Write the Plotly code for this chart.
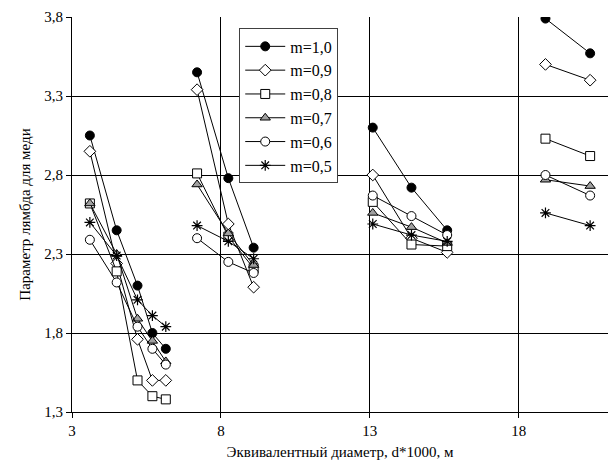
import plotly.graph_objects as go

# Equivalent diameter positions for the four groups
x_g1 = [3.6, 4.5, 5.2, 5.7, 6.15]
x_g2 = [7.2, 8.25, 9.1]
x_g3 = [13.1, 14.4, 15.6]
x_g4 = [18.9, 20.4]

series_names = ["m=1,0", "m=0,9", "m=0,8", "m=0,7", "m=0,6", "m=0,5"]

m10 = [[3.05, 2.45, 2.10, 1.80, 1.70], [3.45, 2.78, 2.34], [3.10, 2.72, 2.45], [3.79, 3.57]]
m09 = [[2.95, 2.24, 1.76, 1.50, 1.50], [3.34, 2.49, 2.09], [2.80, 2.40, 2.31], [3.50, 3.40]]
m08 = [[2.62, 2.19, 1.50, 1.40, 1.38], [2.81, 2.41, 2.21], [2.63, 2.36, 2.35], [3.03, 2.92]]
m07 = [[2.62, 2.30, 1.89, 1.75, 1.62], [2.74, 2.43, 2.23], [2.56, 2.47, 2.37], [2.77, 2.73]]
m06 = [[2.39, 2.12, 1.84, 1.70, 1.60], [2.40, 2.25, 2.18], [2.67, 2.54, 2.42], [2.80, 2.67]]
m05 = [[2.50, 2.29, 2.01, 1.91, 1.84], [2.48, 2.38, 2.27], [2.49, 2.42, 2.38], [2.56, 2.48]]

y_tickvals = [1.3, 1.8, 2.3, 2.8, 3.3, 3.8]
x_tickvals = [3, 8, 13, 18]

groups_x = [x_g1, x_g2, x_g3, x_g4]


def join(groups):
    xs, ys = [], []
    for gx, gy in zip(groups_x, groups):
        xs += gx + [None]
        ys += gy + [None]
    return xs[:-1], ys[:-1]


styles = [
    dict(symbol="circle", size=9, color="black", line=dict(color="black", width=1)),
    dict(symbol="diamond", size=9, color="white", line=dict(color="black", width=1)),
    dict(symbol="square", size=9, color="white", line=dict(color="black", width=1)),
    dict(symbol="triangle-up", size=9, color="#a0a0a0", line=dict(color="black", width=1)),
    dict(symbol="circle", size=9, color="white", line=dict(color="black", width=1)),
    dict(symbol="asterisk-open", size=9, color="black", line=dict(color="black", width=1.2)),
]

fig = go.Figure()
for name, data, st in zip(series_names, [m10, m09, m08, m07, m06, m05], styles):
    xs, ys = join(data)
    fig.add_trace(go.Scatter(
        x=xs, y=ys, name=name, mode="lines+markers",
        line=dict(color="black", width=1),
        marker=st, connectgaps=False,
    ))

font_family = "'Liberation Serif'"
fig.update_layout(
    width=608, height=475,
    margin=dict(l=72, r=0, t=17, b=63),
    paper_bgcolor="white", plot_bgcolor="white",
    separators=", ",
    font=dict(family=font_family, size=15, color="black"),
    showlegend=True,
    legend=dict(
        x=0.312, y=0.971, xanchor="left", yanchor="top",
        bgcolor="white", bordercolor="#404040", borderwidth=1,
        font=dict(family=font_family, size=16, color="black"),
        itemwidth=40, tracegroupgap=0,
        entrywidth=110, entrywidthmode="pixels",
    ),
    xaxis=dict(
        range=[3, 21], tickvals=x_tickvals, showgrid=True, gridcolor="black", gridwidth=1,
        showline=True, linecolor="black", linewidth=1, zeroline=False,
        ticks="outside", ticklen=5, tickcolor="black",
        title=dict(text="Эквивалентный диаметр, d*1000, м", standoff=8,
                   font=dict(size=15)),
    ),
    yaxis=dict(
        range=[1.3, 3.8], tickvals=y_tickvals, tickformat=".1f",
        showgrid=True, gridcolor="black", gridwidth=1,
        showline=True, linecolor="black", linewidth=1, zeroline=False,
        ticks="outside", ticklen=5, tickcolor="black",
        title=dict(text="Параметр лямбда для меди", standoff=10,
                   font=dict(size=15)),
    ),
)

fig.write_html("out.html")
